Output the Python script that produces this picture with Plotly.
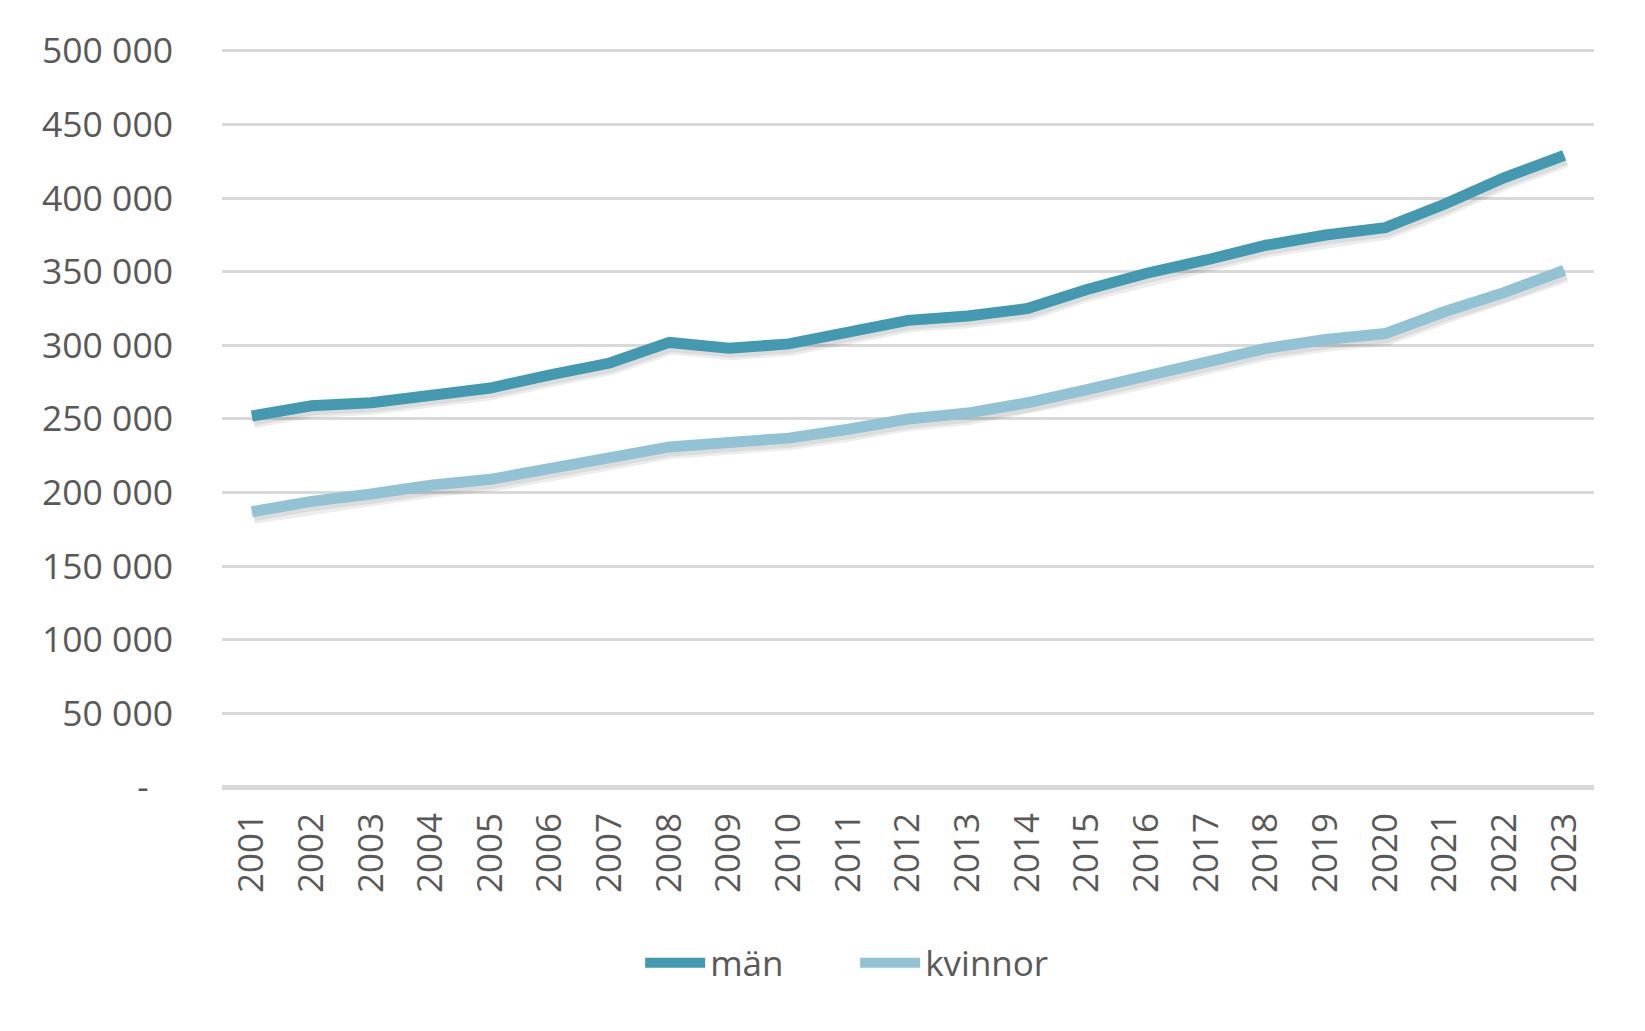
import plotly.graph_objects as go

years = [str(y) for y in range(2001, 2024)]
man = [252000, 259000, 261000, 266000, 271000, 280000, 288000, 302000, 298000, 301000,
       309000, 317000, 320000, 325000, 338000, 349000, 358000, 368000, 375000, 380000,
       396000, 414000, 429000]
kvinnor = [187000, 194000, 199000, 205000, 209000, 216000, 224000, 231000, 234000, 237000,
           243000, 250000, 254000, 261000, 270000, 279000, 288000, 298000, 304000, 308000,
           323000, 336000, 351000]
ytick_vals = [0, 50000, 100000, 150000, 200000, 250000, 300000, 350000, 400000, 450000, 500000]
ytick_text = ["-\u00a0\u00a0\u2009", "50 000", "100 000", "150 000", "200 000", "250 000",
              "300 000", "350 000", "400 000", "450 000", "500 000"]

C_MAN = "#4399b0"
C_KV = "#92c3d5"
TXT = "#595959"
FONT = "Open Sans"

W, H = 1645, 1031
YMAX = 502000
ml, mr, mt, mb = 214, 59, 40, 252
plot_w = W - ml - mr
plot_h = H - mt - mb
n = len(years)
dx = 2 / (plot_w / n)          # shadow offset (px right)
dy = 5 / plot_h * YMAX         # shadow offset (px down)

fig = go.Figure()

# soft shadows
for vals in (man, kvinnor):
    fig.add_trace(go.Scatter(x=years, y=vals, mode="lines", xaxis="x2", yaxis="y2",
                             line=dict(color="rgba(0,0,0,0.07)", width=14),
                             showlegend=False, hoverinfo="skip"))
    fig.add_trace(go.Scatter(x=years, y=vals, mode="lines", xaxis="x2", yaxis="y2",
                             line=dict(color="rgba(0,0,0,0.07)", width=9),
                             showlegend=False, hoverinfo="skip"))

fig.add_trace(go.Scatter(x=years, y=man, mode="lines", name="män", xaxis="x3", yaxis="y3",
                         line=dict(color=C_MAN, width=11)))
fig.add_trace(go.Scatter(x=years, y=kvinnor, mode="lines", name="kvinnor", xaxis="x3", yaxis="y3",
                         line=dict(color=C_KV, width=11)))

# invisible anchor trace for base axes
fig.add_trace(go.Scatter(x=years, y=[None] * n, mode="lines", showlegend=False, hoverinfo="skip"))

base_x = dict(type="category", categoryorder="array", categoryarray=years)
hidden = dict(showgrid=False, showticklabels=False, zeroline=False, showline=False, ticks="")

fig.update_layout(
    width=W, height=H,
    margin=dict(l=ml, r=mr, t=mt, b=mb),
    paper_bgcolor="white", plot_bgcolor="white",
    font=dict(family=FONT, size=35, color=TXT),
    xaxis=dict(**base_x, range=[-0.5, n - 0.5], showgrid=False, zeroline=False,
               showline=False, ticks="", tickangle=-90,
               tickfont=dict(family=FONT, size=35, color=TXT), ticklabelstandoff=18),
    yaxis=dict(range=[0, YMAX], tickvals=ytick_vals, ticktext=ytick_text,
               showgrid=True, gridcolor="#d9d9d9", gridwidth=3,
               zeroline=True, zerolinecolor="#d9d9d9", zerolinewidth=5,
               showline=False, ticks="", ticklabelstandoff=48,
               tickfont=dict(family=FONT, size=35.5, color=TXT)),
    xaxis2=dict(**base_x, **hidden, overlaying="x", range=[-0.5 - dx, n - 0.5 - dx]),
    yaxis2=dict(**hidden, overlaying="y", range=[dy, YMAX + dy]),
    xaxis3=dict(**base_x, **hidden, overlaying="x", range=[-0.5, n - 0.5]),
    yaxis3=dict(**hidden, overlaying="y", range=[0, YMAX]),
    legend=dict(orientation="h", xref="container", yref="container",
                x=0.515, xanchor="center", y=1 - 955 / H, yanchor="middle",
                font=dict(family=FONT, size=35, color=TXT),
                itemwidth=60, entrywidth=140, bgcolor="rgba(0,0,0,0)"),
    showlegend=True,
)

fig.write_html("out.html")
